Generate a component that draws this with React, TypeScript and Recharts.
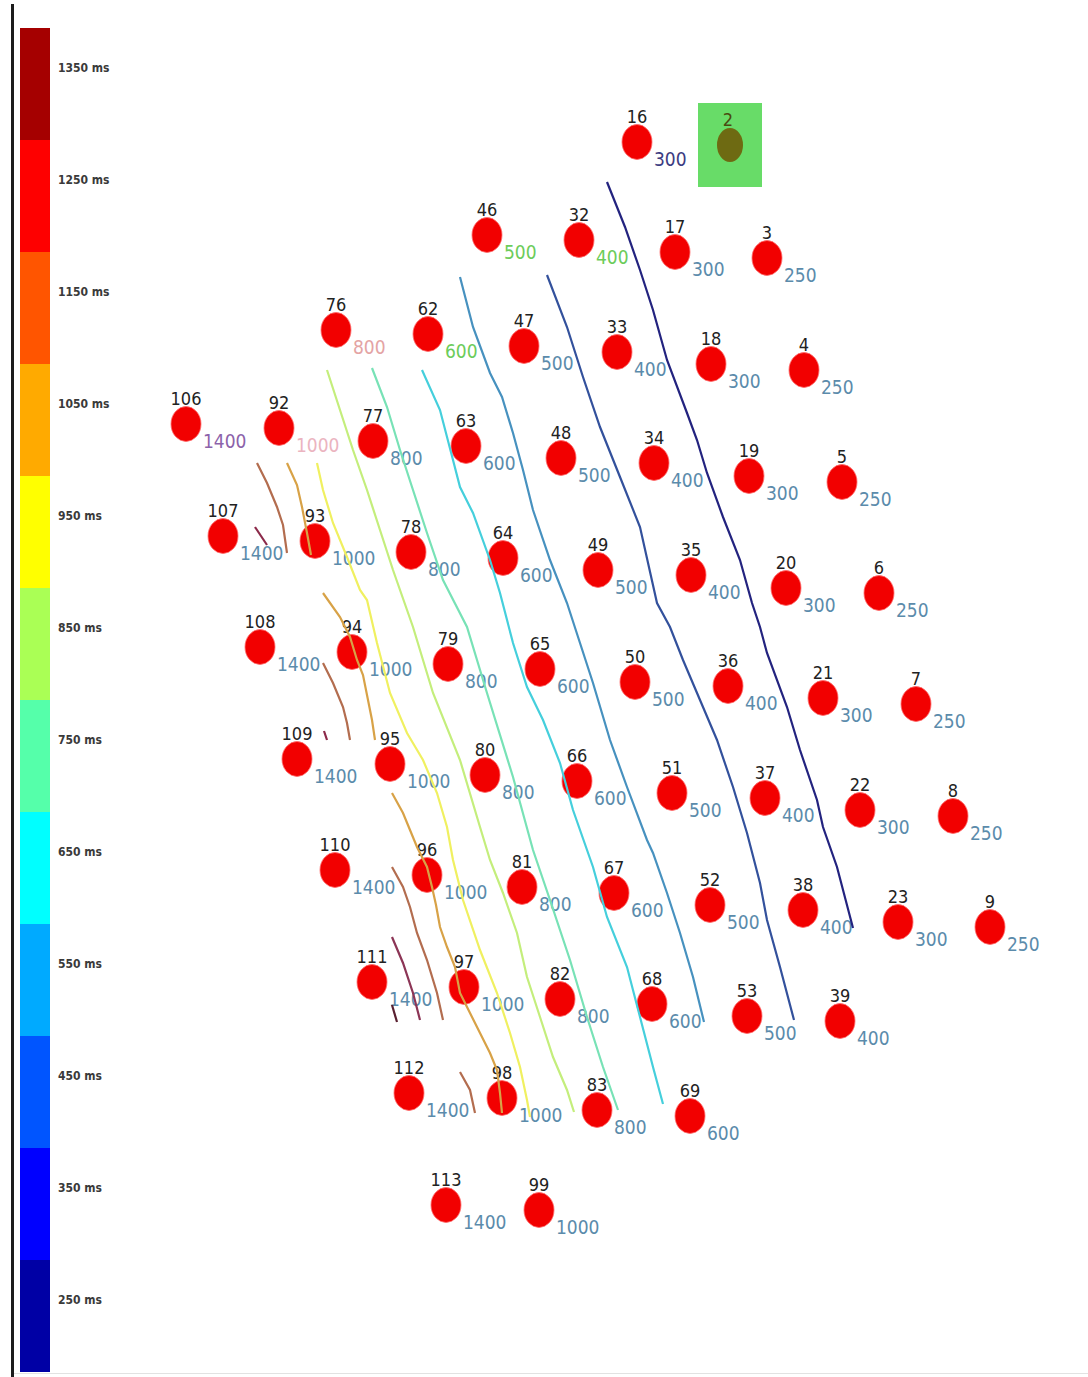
import React from 'react';
import { ScatterChart, Scatter, XAxis, YAxis, BarChart, Bar, Cell } from 'recharts';

// station survey positions (map units, north grows downward) and first-break time in ms
const stationIds = [
  16,
  46, 32, 17, 3,
  76, 62, 47, 33, 18, 4,
  106, 92, 77, 63, 48, 34, 19, 5,
  107, 93, 78, 64, 49, 35, 20, 6,
  108, 94, 79, 65, 50, 36, 21, 7,
  109, 95, 80, 66, 51, 37, 22, 8,
  110, 96, 81, 67, 52, 38, 23, 9,
  111, 97, 82, 68, 53, 39,
  112, 98, 83, 69,
  113, 99,
];
const stationEast = [
  637,
  487, 579, 675, 767,
  336, 428, 524, 617, 711, 804,
  186, 279, 373, 466, 561, 654, 749, 842,
  223, 315, 411, 503, 598, 691, 786, 879,
  260, 352, 448, 540, 635, 728, 823, 916,
  297, 390, 485, 577, 672, 765, 860, 953,
  335, 427, 522, 614, 710, 803, 898, 990,
  372, 464, 560, 652, 747, 840,
  409, 502, 597, 690,
  446, 539,
];
const stationNorth = [
  142,
  235, 240, 252, 258,
  330, 334, 346, 352, 364, 370,
  424, 428, 441, 446, 458, 463, 476, 482,
  536, 541, 552, 558, 570, 575, 588, 593,
  647, 652, 664, 669, 682, 686, 698, 704,
  759, 764, 775, 781, 793, 798, 810, 816,
  870, 875, 887, 893, 905, 910, 922, 927,
  982, 987, 999, 1004, 1016, 1021,
  1093, 1098, 1110, 1116,
  1205, 1210,
];
const stationTime = [
  300,
  500, 400, 300, 250,
  800, 600, 500, 400, 300, 250,
  1400, 1000, 800, 600, 500, 400, 300, 250,
  1400, 1000, 800, 600, 500, 400, 300, 250,
  1400, 1000, 800, 600, 500, 400, 300, 250,
  1400, 1000, 800, 600, 500, 400, 300, 250,
  1400, 1000, 800, 600, 500, 400, 300, 250,
  1400, 1000, 800, 600, 500, 400,
  1400, 1000, 800, 600,
  1400, 1000,
];

// source station
const sourceStation = [{ id: 2, x: 730, y: 145 }];

// contour traces [east, north]
const contour350 = [[607,182],[625,227],[640,270],[653,310],[667,360],[687,413],[697,440],[707,473],[723,517],[740,560],[752,603],[760,627],[767,653],[787,707],[800,750],[817,800],[823,827],[837,867],[853,928]];
const contour450 = [[547,275],[567,327],[583,377],[600,427],[620,477],[640,527],[657,603],[670,627],[683,660],[700,700],[717,740],[733,787],[747,833],[760,883],[767,920],[780,967],[794,1020]];
const contour550 = [[460,277],[473,327],[490,373],[502,397],[513,433],[523,470],[533,510],[550,560],[567,603],[580,643],[593,683],[610,740],[627,787],[647,840],[653,853],[667,893],[680,933],[693,977],[704,1022]];
const contour650 = [[422,370],[440,410],[453,460],[460,487],[473,513],[490,560],[500,593],[513,643],[527,687],[543,720],[560,763],[573,810],[593,867],[607,917],[627,967],[640,1017],[653,1067],[663,1104]];
const contour750 = [[372,368],[387,407],[400,450],[413,490],[427,533],[443,580],[467,627],[487,693],[513,777],[533,850],[550,900],[570,960],[587,1017],[603,1067],[618,1110]];
const contour850 = [[327,370],[340,410],[353,450],[367,490],[380,530],[393,570],[413,627],[433,693],[460,760],[480,827],[490,860],[503,893],[517,933],[527,977],[540,1017],[553,1057],[567,1090],[574,1112]];
const contour950 = [[317,463],[323,490],[333,523],[347,557],[360,590],[367,600],[377,643],[390,693],[407,733],[423,760],[437,793],[447,827],[453,860],[463,900],[480,950],[497,993],[510,1033],[520,1067],[527,1100],[530,1117]];
const contour1050a = [[287,463],[297,485],[302,507],[307,533],[311,555]];
const contour1050b = [[323,593],[340,617],[350,637],[357,660],[363,675],[368,700],[372,720],[375,740]];
const contour1050c = [[392,793],[403,813],[410,830],[417,847],[427,867],[432,887],[436,905],[440,927],[447,947],[455,967],[460,993],[470,1013],[480,1033],[490,1053],[497,1070],[500,1093],[502,1113]];
const contour1150a = [[257,463],[267,483],[277,507],[283,525],[287,553]];
const contour1150b = [[323,663],[333,683],[343,707],[347,723],[350,740]];
const contour1150c = [[392,867],[403,887],[410,907],[417,933],[427,960],[437,993],[443,1020]];
const contour1150d = [[460,1072],[470,1090],[475,1113]];
const contour1250a = [[392,937],[403,963],[413,993],[420,1020]];
const contour1350a = [[255,527],[267,545]];
const contour1350b = [[324,731],[327,740]];
const contour1350c = [[392,1005],[397,1022]];

const legendLabels = ['1350 ms', '1250 ms', '1150 ms', '1050 ms', '950 ms', '850 ms', '750 ms', '650 ms', '550 ms', '450 ms', '350 ms', '250 ms'];
const legendColors = ['#a50000', '#fe0000', '#ff5500', '#ffaa00', '#ffff00', '#aaff55', '#55ffaa', '#00ffff', '#00aaff', '#0055ff', '#0000ff', '#0000a5'];

const FONT = "'Liberation Sans Narrow', 'Arial Narrow', 'DejaVu Sans Condensed', sans-serif";

const tints: Record<number, string> = {
  16: '#3c3c82', 46: '#6ccc5a', 32: '#6ccc5a', 62: '#6ccc5a',
  76: '#e4a4a4', 106: '#8c62aa', 92: '#ebb4c0',
};

const toPts = (arr: number[][]) => arr.map(([x, y]) => ({ x, y }));

const contours: { key: string; pts: number[][]; color: string }[] = [
  { key: 'c350', pts: contour350, color: '#23237f' },
  { key: 'c450', pts: contour450, color: '#33519c' },
  { key: 'c550', pts: contour550, color: '#4791bf' },
  { key: 'c650', pts: contour650, color: '#45cfdc' },
  { key: 'c750', pts: contour750, color: '#78e2b6' },
  { key: 'c850', pts: contour850, color: '#c4ee7c' },
  { key: 'c950', pts: contour950, color: '#f0f060' },
  { key: 'c1050a', pts: contour1050a, color: '#d8a247' },
  { key: 'c1050b', pts: contour1050b, color: '#d8a247' },
  { key: 'c1050c', pts: contour1050c, color: '#d8a247' },
  { key: 'c1150a', pts: contour1150a, color: '#b36d4f' },
  { key: 'c1150b', pts: contour1150b, color: '#b36d4f' },
  { key: 'c1150c', pts: contour1150c, color: '#b36d4f' },
  { key: 'c1150d', pts: contour1150d, color: '#b36d4f' },
  { key: 'c1250a', pts: contour1250a, color: '#8c3556' },
  { key: 'c1350a', pts: contour1350a, color: '#8c2a4a' },
  { key: 'c1350b', pts: contour1350b, color: '#8c2a4a' },
  { key: 'c1350c', pts: contour1350c, color: '#5a2030' },
];

const StationDot = (props: any) => {
  const { cx, cy, payload } = props;
  return (
    <g>
      <ellipse cx={cx} cy={cy} rx={15} ry={17.5} fill="#f20000" stroke="#ff6a6a" strokeWidth={0.8} />
      <text x={cx} y={cy - 19} textAnchor="middle" fontFamily={FONT} fontSize={18} fill="#222">{payload.id}</text>
      <text x={cx + 17} y={cy + 24} textAnchor="start" fontFamily={FONT} fontSize={19} fill={tints[payload.id] || '#5b8bab'}>{payload.t}</text>
    </g>
  );
};

const SourceDot = (props: any) => {
  const { cx, cy, payload } = props;
  return (
    <g>
      <rect x={cx - 32} y={cy - 42} width={64} height={84} fill="#68dc68" />
      <ellipse cx={cx} cy={cy} rx={13} ry={17} fill="#6e6a12" />
      <text x={cx - 2} y={cy - 19} textAnchor="middle" fontFamily={FONT} fontSize={18} fill="#4a4a10">{payload.id}</text>
    </g>
  );
};

const LegendTick = (props: any) => {
  const { x, y, payload } = props;
  return (
    <text x={x - 6} y={y - 12} textAnchor="start" fontFamily={FONT} fontSize={12} fontWeight="bold" fill="#3a3a3a">{payload.value}</text>
  );
};

export default function App() {
  const stations = stationIds.map((id, i) => ({ id, x: stationEast[i], y: stationNorth[i], t: stationTime[i] }));
  const legendData = legendLabels.map((label) => ({ label, v: 1 }));

  return (
    <div style={{ position: 'absolute', left: 0, top: 0, width: 1088, height: 1377, background: '#fff', overflow: 'hidden' }}>
      <div style={{ position: 'absolute', left: 11, top: 4, width: 3, height: 1373, background: '#1c1c1c' }} />
      <div style={{ position: 'absolute', left: 14, top: 1373, width: 1074, height: 1, background: '#e2e2e2' }} />
      <div style={{ position: 'absolute', left: 0, top: 0 }}>
        <BarChart width={140} height={1377} data={legendData} layout="vertical" barCategoryGap={0} margin={{ top: 28, right: 0, bottom: 5, left: 20 }}>
          <XAxis type="number" domain={[0, 1]} hide />
          <YAxis type="category" dataKey="label" orientation="right" width={90} axisLine={false} tickLine={false} tickMargin={8} tick={<LegendTick />} interval={0} />
          <Bar dataKey="v" isAnimationActive={false}>
            {legendData.map((d, i) => <Cell key={d.label} fill={legendColors[i]} />)}
          </Bar>
        </BarChart>
      </div>
      <div style={{ position: 'absolute', left: 0, top: 0 }}>
        <ScatterChart width={1088} height={1377} margin={{ top: 0, right: 0, bottom: 0, left: 0 }}>
          <XAxis type="number" dataKey="x" domain={[0, 1088]} hide />
          <YAxis type="number" dataKey="y" domain={[0, 1377]} reversed hide />
          <Scatter data={sourceStation} shape={<SourceDot />} isAnimationActive={false} />
          <Scatter data={stations} shape={<StationDot />} isAnimationActive={false} />
          {contours.map((c) => (
            <Scatter key={c.key} data={toPts(c.pts)} line={{ stroke: c.color, strokeWidth: 2.2 }} lineType="joint" shape={() => <g />} isAnimationActive={false} />
          ))}
        </ScatterChart>
      </div>
    </div>
  );
}
